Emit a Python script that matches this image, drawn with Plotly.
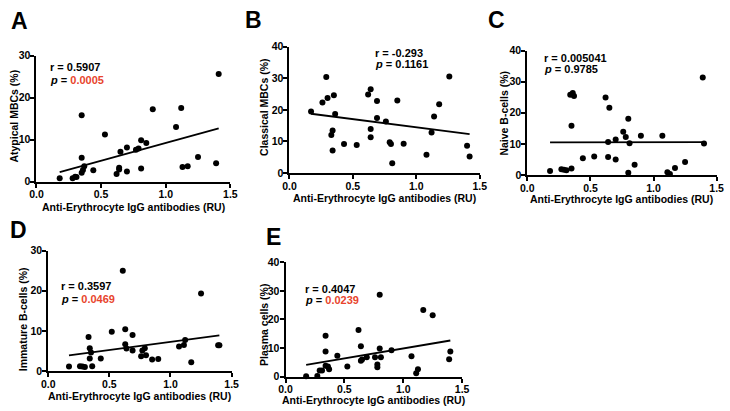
import numpy as np
import plotly.graph_objects as go

# anti-erythrocyte IgG (RU) per donor, read separately in each panel
x_a = [0.18, 0.28, 0.30, 0.31, 0.35, 0.35, 0.35, 0.36, 0.37, 0.44, 0.53, 0.62, 0.64, 0.64, 0.65,
       0.70, 0.70, 0.77, 0.79, 0.81, 0.81, 0.85, 0.90, 1.08, 1.12, 1.13, 1.17, 1.25, 1.39, 1.41]
y_a = [0.85, 0.85, 1.2, 1.15, 15.8, 5.7, 2.15, 2.8, 3.7, 2.7, 11.2, 1.85, 3.3, 2.9, 7.1,
       8.15, 2.4, 7.6, 7.9, 3.15, 9.85, 9.2, 17.2, 13.0, 17.5, 3.5, 3.7, 5.9, 4.4, 25.6]

x_b = [0.17, 0.26, 0.29, 0.30, 0.35, 0.34, 0.33, 0.34, 0.36, 0.43, 0.53, 0.62, 0.64, 0.64, 0.64,
       0.69, 0.69, 0.76, 0.79, 0.80, 0.81, 0.85, 0.90, 1.08, 1.12, 1.14, 1.18, 1.26, 1.40, 1.42]
y_b = [19.5, 22.3, 30.4, 23.8, 24.6, 13.5, 12.0, 7.1, 18.7, 9.2, 8.9, 24.9, 26.5, 11.3, 13.9,
       22.8, 17.4, 16.3, 9.7, 9.2, 3.1, 23.0, 9.3, 5.8, 12.8, 17.9, 21.8, 30.6, 8.6, 5.2]

x_c = [0.18, 0.27, 0.29, 0.31, 0.34, 0.36, 0.37, 0.35, 0.35, 0.44, 0.53, 0.62, 0.65, 0.64, 0.64,
       0.70, 0.70, 0.76, 0.78, 0.80, 0.81, 0.80, 0.85, 0.90, 1.07, 1.11, 1.13, 1.17, 1.25, 1.39, 1.40]
y_c = [1.25, 1.8, 1.7, 1.5, 25.8, 26.4, 25.4, 15.8, 2.1, 5.4, 5.9, 24.9, 21.6, 10.6, 5.8,
       11.4, 5.0, 13.9, 12.2, 18.1, 10.2, 0.7, 3.3, 12.6, 12.6, 0.9, 0.3, 2.2, 4.2, 31.4, 10.1]

x_d = [0.17, 0.26, 0.28, 0.30, 0.33, 0.34, 0.35, 0.34, 0.36, 0.43, 0.52, 0.61, 0.63, 0.63, 0.64,
       0.69, 0.69, 0.76, 0.77, 0.79, 0.80, 0.85, 0.90, 1.07, 1.11, 1.12, 1.17, 1.25, 1.39, 1.40]
y_d = [1.1, 1.2, 1.1, 1.0, 8.5, 5.7, 4.6, 3.1, 1.2, 3.1, 9.8, 25.0, 10.4, 6.7, 5.6,
       9.0, 5.1, 3.7, 5.1, 5.7, 3.9, 2.9, 3.0, 6.1, 6.5, 7.7, 2.2, 19.3, 6.4, 6.4]

x_e = [0.175, 0.27, 0.29, 0.31, 0.34, 0.34, 0.34, 0.36, 0.37, 0.44, 0.525, 0.62, 0.64, 0.64, 0.65,
       0.69, 0.76, 0.78, 0.78, 0.80, 0.80, 0.81, 0.90, 1.07, 1.11, 1.125, 1.17, 1.25, 1.39, 1.40]
y_e = [0.1, 0.2, 2.1, 2.1, 14.3, 8.8, 3.8, 3.5, 2.6, 7.3, 3.5, 16.3, 10.6, 5.5, 6.0,
       6.8, 6.8, 4.2, 3.3, 28.6, 9.8, 6.8, 9.2, 7.1, 1.2, 2.6, 23.3, 21.5, 6.1, 8.8]

y_titles = ["Atypical MBCs (%)", "Classical MBCs (%)", "Naive B-cells (%)",
            "Immature B-cells (%)", "Plasma cells (%)"]
r_values = ["0.5907", "-0.293", "0.005041", "0.3597", "0.4047"]
p_values = ["0.0005", "0.1161", "0.9785", "0.0469", "0.0239"]
significant = [True, False, False, True, True]
y_max = [30, 40, 40, 30, 40]
x_ticks = [0, 0.5, 1.0, 1.5]
x_title = "Anti-Erythrocyte IgG antibodies (RU)"

W, H = 730, 411
FONT = "Liberation Sans, Arial, sans-serif"
RED = "#e8442c"

# pixel layout of each panel: axis box (left, right, top, bottom), letter, y-title, x-title, stats
layout_px = [
    dict(box=(30, 227.7, 51, 181), letter=(13, 15), ytl=(7, 113), xtl=207.5, stats=(42, 63, 76.5)),
    dict(box=(288, 482, 42, 172), letter=(251, 14), ytl=(262, 104), xtl=198, stats=(373, 48, 60)),
    dict(box=(530.5, 723.5, 46, 174), letter=(499, 14), ytl=(506.5, 110), xtl=198.5, stats=(545, 53.5, 64.5)),
    dict(box=(42, 229, 252, 376), letter=(12, 231), ytl=(16, 323), xtl=401.5, stats=(53, 288.5, 301.5)),
    dict(box=(284, 464, 264, 381.7), letter=(272, 238), ytl=(262.5, 328), xtl=405.5, stats=(301.5, 291, 302.5)),
]


def px(x):
    return x / W


def py(y):
    return 1 - y / H


def note(x, y, text, size=11, xanchor="center", **kw):
    return dict(x=px(x), y=py(y), text=text, showarrow=False, xref="paper", yref="paper",
                xanchor=xanchor, yanchor="middle",
                font=dict(family=FONT, size=size, color="black", weight="bold"), **kw)


fig = go.Figure()
annotations = []
data = [(x_a, y_a), (x_b, y_b), (x_c, y_c), (x_d, y_d), (x_e, y_e)]
letters = ["A", "B", "C", "D", "E"]

for i, ((xs, ys), lp) in enumerate(zip(data, layout_px)):
    n = "" if i == 0 else str(i + 1)
    xa, ya = "x" + n, "y" + n
    left, right, top, bottom = lp["box"]

    fig.add_trace(go.Scatter(
        x=xs, y=ys, mode="markers", xaxis=xa, yaxis=ya, cliponaxis=False,
        marker=dict(color="black", size=6), showlegend=False,
    ))

    # linear regression line over the observed range
    slope, icpt = np.polyfit(xs, ys, 1)
    fx = [min(xs), max(xs)]
    fig.add_trace(go.Scatter(
        x=fx, y=[slope * v + icpt for v in fx], mode="lines", xaxis=xa, yaxis=ya,
        line=dict(color="black", width=1.8), showlegend=False, hoverinfo="skip",
    ))

    axis_common = dict(
        showline=True, linecolor="black", linewidth=2, ticks="outside", ticklen=4,
        tickwidth=2, tickcolor="black", showgrid=False, zeroline=False,
        ticklabelstandoff=-2,
        tickfont=dict(family=FONT, size=10.5, color="black", weight="bold"),
    )
    fig.update_layout({
        "xaxis" + n: dict(domain=[px(left), px(right)], range=[0, 1.5], anchor=ya,
                          tickvals=x_ticks, ticktext=["%.1f" % t for t in x_ticks],
                          **axis_common),
        "yaxis" + n: dict(domain=[py(bottom), py(top)], range=[0, y_max[i]], anchor=xa,
                          tickvals=list(range(0, y_max[i] + 1, 10)), **axis_common),
    })

    annotations.append(note(*lp["letter"], letters[i], size=23))
    annotations.append(note(*lp["ytl"], y_titles[i], size=10.5, textangle=-90))
    annotations.append(note((left + right) / 2, lp["xtl"], x_title, size=10.5))
    sx, sy1, sy2 = lp["stats"]
    pcol = RED if significant[i] else "black"
    annotations.append(note(sx, sy1, "r = " + r_values[i], xanchor="left"))
    annotations.append(note(sx, sy2, "<i>p</i> = <span style='color:%s'>%s</span>"
                            % (pcol, p_values[i]), xanchor="left"))

fig.update_layout(
    width=W, height=H, margin=dict(l=0, r=0, t=0, b=0),
    paper_bgcolor="white", plot_bgcolor="white",
    annotations=annotations, showlegend=False,
)

# drop the browser's default body margin so the figure sits at the page corner
fig.write_html("out.html", config={"displayModeBar": False},
               post_script="document.body.style.margin='0';")
